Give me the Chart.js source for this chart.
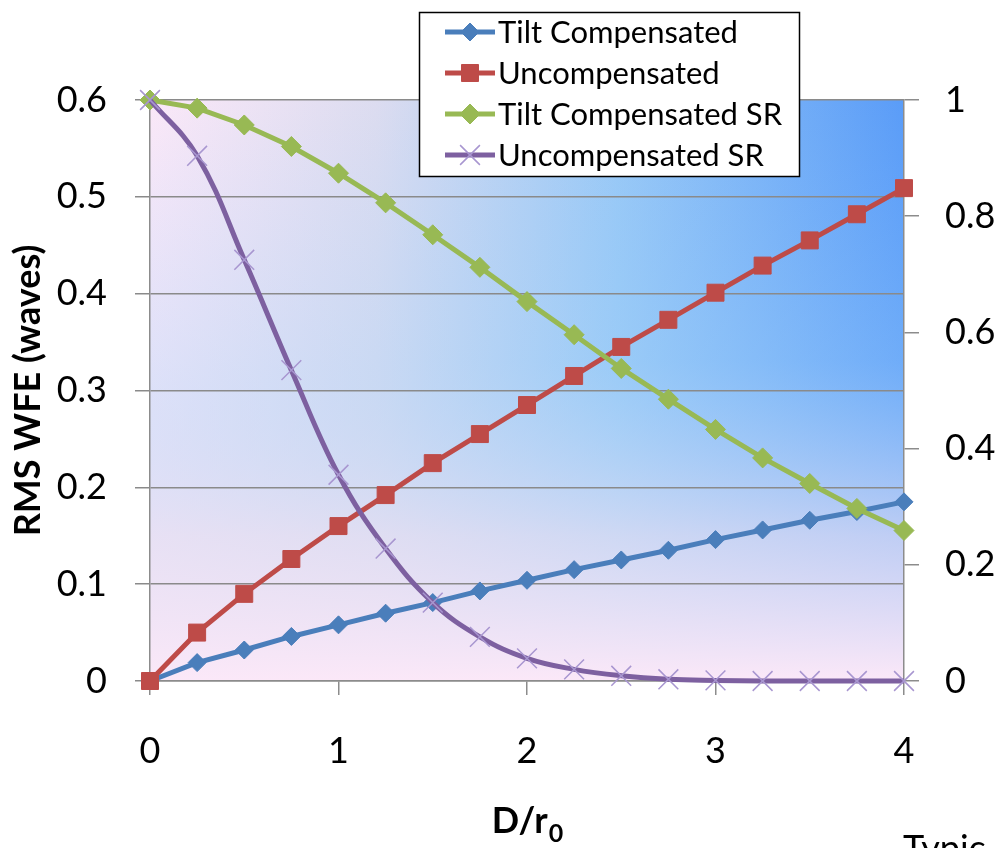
<!DOCTYPE html>
<html>
<head>
<meta charset="utf-8">
<title>RMS WFE vs D/r0</title>
<script src="https://cdn.jsdelivr.net/npm/chart.js"></script>
<style>
  html, body { margin: 0; padding: 0; background: #fff; }
  #wrap { position: relative; width: 1003px; height: 848px; overflow: hidden; }
</style>
</head>
<body>
<div id="wrap"><canvas id="myChart"></canvas></div>
<script>
//------ data
const ratios = [0, 0.25, 0.5, 0.75, 1, 1.25, 1.5, 1.75, 2, 2.25, 2.5, 2.75, 3, 3.25, 3.5, 3.75, 4];

// RMS WFE (waves), left axis
const tiltComp = [0, 0.019, 0.032, 0.046, 0.058, 0.070, 0.081, 0.093, 0.104, 0.115, 0.125, 0.135, 0.146, 0.156, 0.166, 0.175, 0.185];
const uncomp   = [0, 0.050, 0.090, 0.126, 0.160, 0.192, 0.225, 0.255, 0.285, 0.315, 0.345, 0.373, 0.401, 0.429, 0.455, 0.482, 0.509];

// Strehl ratio, right axis
const tiltCompSR = [1, 0.986, 0.957, 0.920, 0.874, 0.823, 0.768, 0.712, 0.653, 0.596, 0.538, 0.485, 0.433, 0.384, 0.340, 0.297, 0.259];
const uncompSR   = [1, 0.904, 0.725, 0.535, 0.355, 0.228, 0.135, 0.076, 0.039, 0.020, 0.009, 0.003, 0.001, 0, 0, 0, 0];

const seriesNames = ['Tilt Compensated', 'Uncompensated', 'Tilt Compensated SR', 'Uncompensated SR'];

//------ helpers
const pts = vals => vals.map((v, i) => ({x: ratios[i], y: v}));
const FONT = 'Lato';
const plainNum = v => String(+Number(v).toFixed(2)); // 1 instead of 1.0

// gradient behind the plot area
const plotBg = {
  id: 'plotBg',
  beforeDraw(chart) {
    const {ctx, chartArea: a} = chart;
    ctx.save();
    const h = ctx.createLinearGradient(a.left, 0, a.right, 0);
    h.addColorStop(0, '#fbe8f8');
    h.addColorStop(0.3, '#dcdcf0');
    h.addColorStop(0.62, '#98c8f6');
    h.addColorStop(1, '#5a9cf8');
    ctx.fillStyle = h;
    ctx.fillRect(a.left, a.top, a.width, a.height);
    const v = ctx.createLinearGradient(0, a.top, 0, a.bottom);
    v.addColorStop(0, 'rgba(150,205,252,0)');
    v.addColorStop(0.45, 'rgba(160,210,250,0.3)');
    v.addColorStop(0.75, 'rgba(225,222,243,0.75)');
    v.addColorStop(1, 'rgba(251,232,248,1)');
    ctx.fillStyle = v;
    ctx.fillRect(a.left, a.top, a.width, a.height);
    ctx.restore();
  }
};

// boxed legend sitting over the top of the plot, plus x title and stray text
const extras = {
  id: 'extras',
  afterDraw(chart) {
    const ctx = chart.ctx;
    ctx.save();
    // legend box
    ctx.fillStyle = '#fff';
    ctx.fillRect(419, 12, 380, 164);
    ctx.strokeStyle = '#000';
    ctx.lineWidth = 1.5;
    ctx.strokeRect(419.5, 12.5, 380, 164);
    chart.data.datasets.forEach((ds, i) => {
      const y = 32 + i * 41;
      ctx.strokeStyle = ds.borderColor;
      ctx.lineWidth = 5;
      ctx.beginPath();
      ctx.moveTo(445, y);
      ctx.lineTo(495, y);
      ctx.stroke();
      ctx.fillStyle = ds.pointBackgroundColor;
      ctx.strokeStyle = ds.pointBorderColor;
      ctx.lineWidth = ds.pointBorderWidth;
      Chart.helpers.drawPoint(ctx, {
        pointStyle: ds.pointStyle,
        radius: ds.pointRadius,
        rotation: 0,
        borderWidth: ds.pointBorderWidth
      }, 470, y);
      ctx.fillStyle = '#000';
      ctx.font = '31px ' + FONT;
      ctx.textBaseline = 'middle';
      ctx.textAlign = 'left';
      ctx.fillText(ds.label, 498, y + 1);
    });

    // x axis title D/r0 with subscript
    const a = chart.chartArea;
    ctx.fillStyle = '#000';
    ctx.textBaseline = 'alphabetic';
    ctx.textAlign = 'left';
    ctx.font = 'bold 36px ' + FONT;
    const main = 'D/r';
    const w1 = ctx.measureText(main).width;
    ctx.font = 'bold 25px ' + FONT;
    const w2 = ctx.measureText('0').width;
    const x0 = (a.left + a.right) / 2 - (w1 + w2) / 2;
    ctx.font = 'bold 36px ' + FONT;
    ctx.fillText(main, x0, 833);
    ctx.font = 'bold 25px ' + FONT;
    ctx.fillText('0', x0 + w1 + 1, 842);

    // cut-off text at the bottom right
    ctx.font = '36px ' + FONT;
    ctx.fillText('Typic', 903, 861);
    ctx.restore();
  }
};

//------ chart
const ctx = document.getElementById('myChart');

new Chart(ctx, {
  type: 'line',
  data: {
    datasets: [
      {
        label: seriesNames[0],
        data: pts(tiltComp),
        yAxisID: 'y',
        borderColor: '#4a7ebb',
        borderWidth: 5,
        pointStyle: 'rectRot',
        pointRadius: 9,
        pointBackgroundColor: '#4a7ebb',
        pointBorderColor: '#4a7ebb',
        pointBorderWidth: 1,
        tension: 0,
        clip: false,
        order: 4
      },
      {
        label: seriesNames[1],
        data: pts(uncomp),
        yAxisID: 'y',
        borderColor: '#be4b48',
        borderWidth: 5,
        pointStyle: 'rect',
        pointRadius: 12,
        pointBackgroundColor: '#be4b48',
        pointBorderColor: '#be4b48',
        pointBorderWidth: 1,
        tension: 0,
        clip: false,
        order: 3
      },
      {
        label: seriesNames[2],
        data: pts(tiltCompSR),
        yAxisID: 'y1',
        borderColor: '#98b954',
        borderWidth: 5,
        pointStyle: 'rectRot',
        pointRadius: 10,
        pointBackgroundColor: '#98b954',
        pointBorderColor: '#98b954',
        pointBorderWidth: 1,
        tension: 0,
        clip: false,
        order: 2
      },
      {
        label: seriesNames[3],
        data: pts(uncompSR),
        yAxisID: 'y1',
        borderColor: '#7d60a0',
        borderWidth: 5,
        pointStyle: 'crossRot',
        pointRadius: 14,
        pointBackgroundColor: '#a896d0',
        pointBorderColor: '#a896d0',
        pointBorderWidth: 1.5,
        tension: 0.4,
        clip: false,
        order: 1
      }
    ]
  },
  options: {
    responsive: true,
    maintainAspectRatio: false,
    animation: false,
    layout: { padding: { top: 100, left: 0, right: 0, bottom: 0 } },
    plugins: {
      legend: { display: false },
      tooltip: { enabled: false }
    },
    scales: {
      x: {
        type: 'linear',
        min: 0,
        max: 4,
        ticks: { stepSize: 1, padding: 35, color: '#000', font: { family: FONT, size: 36 } },
        grid: { drawOnChartArea: false, tickLength: 14, color: '#8c8c8c', lineWidth: 1.5 },
        border: { color: '#8c8c8c', width: 1.5 },
        afterFit: s => { s.height = 167; }
      },
      y: {
        position: 'left',
        min: 0,
        max: 0.6,
        ticks: { stepSize: 0.1, padding: 28, color: '#000', font: { family: FONT, size: 36 }, callback: plainNum },
        grid: { color: '#8a8a8a', lineWidth: 1.5, tickLength: 15 },
        border: { color: '#8c8c8c', width: 1.5 },
        title: {
          display: true,
          text: 'RMS WFE (waves)',
          color: '#000',
          font: { family: FONT, size: 36, weight: 'bold' },
          padding: { top: 7, bottom: 0 }
        },
        afterFit: s => { s.width = 150; }
      },
      y1: {
        position: 'right',
        min: 0,
        max: 1,
        ticks: { stepSize: 0.2, padding: 26, color: '#000', font: { family: FONT, size: 36 }, callback: plainNum },
        grid: { drawOnChartArea: false, color: '#8c8c8c', lineWidth: 1.5, tickLength: 15 },
        border: { color: '#8c8c8c', width: 1.5 },
        afterFit: s => { s.width = 99; }
      }
    }
  },
  plugins: [plotBg, extras]
});
</script>
</body>
</html>
